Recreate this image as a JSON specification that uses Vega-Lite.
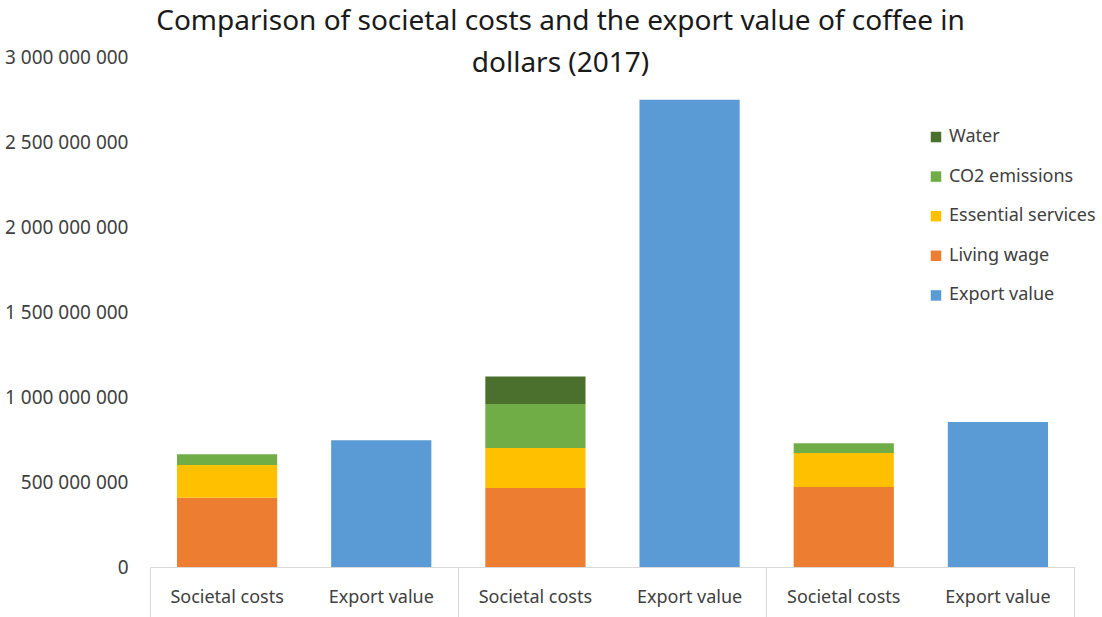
{
  "$schema": "https://vega.github.io/schema/vega-lite/v6.json",
  "width": 925,
  "height": 510,
  "autosize": {"type": "none"},
  "padding": {"left": 150, "top": 57, "right": 27, "bottom": 50},
  "background": "white",
  "config": {
    "locale": {"number": {"decimal": ".", "thousands": " ", "grouping": [3], "currency": ["", ""]}},
    "view": {"stroke": null},
    "font": "Noto Sans"
  },
  "title": {
    "text": ["Comparison of societal costs and the export value of coffee in", "dollars (2017)"],
    "font": "Noto Sans",
    "fontSize": 28,
    "fontWeight": "normal",
    "color": "#1a1a1a",
    "lineHeight": 42,
    "anchor": "middle",
    "frame": "group",
    "dx": -52,
    "dy": 30,
    "offset": 0
  },
  "data": {
    "values": [
      {"slot": "g1|Societal costs", "component": "Living wage", "ord": 1, "value": 407000000},
      {"slot": "g1|Societal costs", "component": "Essential services", "ord": 2, "value": 193000000},
      {"slot": "g1|Societal costs", "component": "CO2 emissions", "ord": 3, "value": 63000000},
      {"slot": "g1|Export value", "component": "Export value", "ord": 1, "value": 745000000},
      {"slot": "g2|Societal costs", "component": "Living wage", "ord": 1, "value": 465000000},
      {"slot": "g2|Societal costs", "component": "Essential services", "ord": 2, "value": 235000000},
      {"slot": "g2|Societal costs", "component": "CO2 emissions", "ord": 3, "value": 259000000},
      {"slot": "g2|Societal costs", "component": "Water", "ord": 4, "value": 161000000},
      {"slot": "g2|Export value", "component": "Export value", "ord": 1, "value": 2748000000},
      {"slot": "g3|Societal costs", "component": "Living wage", "ord": 1, "value": 470000000},
      {"slot": "g3|Societal costs", "component": "Essential services", "ord": 2, "value": 201000000},
      {"slot": "g3|Societal costs", "component": "CO2 emissions", "ord": 3, "value": 57000000},
      {"slot": "g3|Export value", "component": "Export value", "ord": 1, "value": 853000000}
    ]
  },
  "mark": {"type": "bar", "width": {"band": 0.65}},
  "encoding": {
    "x": {
      "field": "slot",
      "type": "nominal",
      "sort": ["g1|Societal costs", "g1|Export value", "g2|Societal costs", "g2|Export value", "g3|Societal costs", "g3|Export value"],
      "scale": {"paddingInner": 0, "paddingOuter": 0},
      "axis": {
        "title": null,
        "labelExpr": "split(datum.label, '|')[1]",
        "labelAngle": 0,
        "labelFontSize": 18,
        "labelFont": "Noto Sans",
        "labelColor": "#404040",
        "labelBaseline": "middle",
        "labelPadding": -25,
        "domainColor": "#d9d9d9",
        "domainWidth": 1,
        "tickColor": "#d9d9d9",
        "tickWidth": 1,
        "tickSize": 55,
        "bandPosition": 1,
        "tickExtra": true,
        "tickOpacity": {"condition": {"test": "!isString(datum.value) || indexof(datum.value, 'Export') >= 0", "value": 1}, "value": 0}
      }
    },
    "y": {
      "field": "value",
      "type": "quantitative",
      "stack": "zero",
      "scale": {"domain": [0, 3000000000], "nice": false},
      "axis": {
        "title": null,
        "values": [0, 500000000, 1000000000, 1500000000, 2000000000, 2500000000, 3000000000],
        "format": ",d",
        "labelFontSize": 19,
        "labelFont": "Noto Sans",
        "labelColor": "#404040",
        "labelPadding": 22,
        "ticks": false,
        "domain": false,
        "grid": false
      }
    },
    "color": {
      "field": "component",
      "type": "nominal",
      "scale": {
        "domain": ["Water", "CO2 emissions", "Essential services", "Living wage", "Export value"],
        "range": ["#4b702e", "#70ad47", "#ffc000", "#ed7d31", "#5b9bd5"]
      },
      "legend": {
        "orient": "none",
        "legendX": 777,
        "legendY": 71,
        "direction": "vertical",
        "title": null,
        "symbolType": "square",
        "symbolSize": 110,
        "symbolStrokeWidth": 0,
        "labelFontSize": 18,
        "labelFont": "Noto Sans",
        "labelColor": "#404040",
        "labelOffset": 4,
        "rowPadding": 21.6
      }
    },
    "order": {"field": "ord", "type": "quantitative"}
  }
}
